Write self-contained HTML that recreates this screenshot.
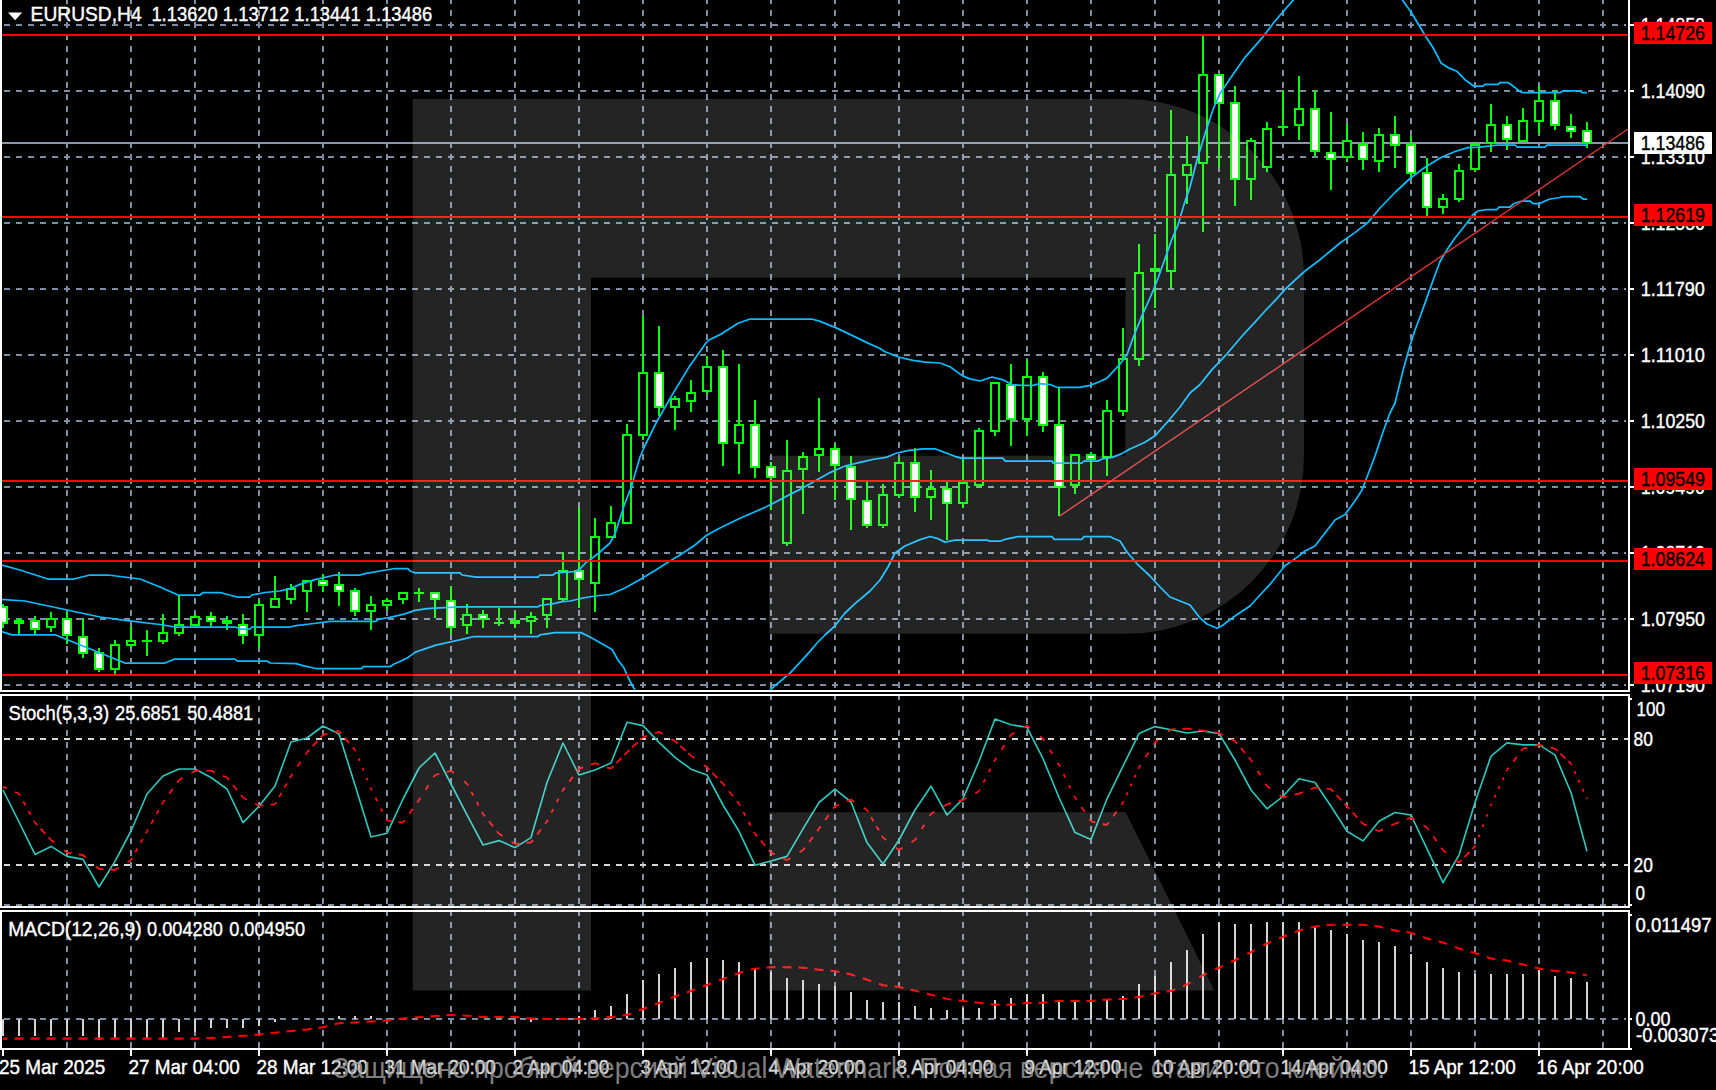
<!DOCTYPE html>
<html lang="en"><head><meta charset="utf-8"><title>EURUSD H4</title>
<style>html,body{margin:0;padding:0;background:#000;}body{width:1716px;height:1090px;overflow:hidden;}svg{display:block;}text{font-family:"Liberation Sans",sans-serif;}.g{stroke:#7e8fa5;stroke-width:2;stroke-dasharray:6 6;fill:none}.lv{stroke:#d6d6d6;stroke-width:2;stroke-dasharray:6 6;fill:none}.r{stroke:#ff0000;stroke-width:2;fill:none}.b{stroke:#08bcff;stroke-width:1.75;fill:none;stroke-linejoin:round}.wk{stroke:#00ff00;stroke-width:2;fill:none}.cw{fill:#fff;stroke:#00ff00;stroke-width:2}.ch{fill:#000;stroke:#00ff00;stroke-width:2}.cd{fill:#00ff00;stroke:#00ff00;stroke-width:2}.wl{stroke:#fff;stroke-width:2;fill:none}.t{fill:#fff;font-size:17.6px;stroke:#fff;stroke-width:0.35}.tk{fill:#000;font-size:17.6px;stroke:#000;stroke-width:0.35}</style></head><body>
<svg width="1716" height="1090" viewBox="0 0 1716 1090">
<rect x="0" y="0" width="1716" height="1090" fill="#000"/>
<g class="g">
<path d="M67 -2V690M67 694V906M67 910V1048"/>
<path d="M131 -2V690M131 694V906M131 910V1048"/>
<path d="M195 -2V690M195 694V906M195 910V1048"/>
<path d="M259 -2V690M259 694V906M259 910V1048"/>
<path d="M323 -2V690M323 694V906M323 910V1048"/>
<path d="M387 -2V690M387 694V906M387 910V1048"/>
<path d="M451 -2V690M451 694V906M451 910V1048"/>
<path d="M515 -2V690M515 694V906M515 910V1048"/>
<path d="M579 -2V690M579 694V906M579 910V1048"/>
<path d="M643 -2V690M643 694V906M643 910V1048"/>
<path d="M707 -2V690M707 694V906M707 910V1048"/>
<path d="M771 -2V690M771 694V906M771 910V1048"/>
<path d="M835 -2V690M835 694V906M835 910V1048"/>
<path d="M899 -2V690M899 694V906M899 910V1048"/>
<path d="M963 -2V690M963 694V906M963 910V1048"/>
<path d="M1027 -2V690M1027 694V906M1027 910V1048"/>
<path d="M1091 -2V690M1091 694V906M1091 910V1048"/>
<path d="M1155 -2V690M1155 694V906M1155 910V1048"/>
<path d="M1219 -2V690M1219 694V906M1219 910V1048"/>
<path d="M1283 -2V690M1283 694V906M1283 910V1048"/>
<path d="M1347 -2V690M1347 694V906M1347 910V1048"/>
<path d="M1411 -2V690M1411 694V906M1411 910V1048"/>
<path d="M1475 -2V690M1475 694V906M1475 910V1048"/>
<path d="M1539 -2V690M1539 694V906M1539 910V1048"/>
<path d="M1603 -2V690M1603 694V906M1603 910V1048"/>
<path d="M4 25H1626"/>
<path d="M4 91H1626"/>
<path d="M4 157H1626"/>
<path d="M4 223H1626"/>
<path d="M4 289H1626"/>
<path d="M4 355H1626"/>
<path d="M4 421H1626"/>
<path d="M4 487H1626"/>
<path d="M4 553H1626"/>
<path d="M4 619H1626"/>
<path d="M4 685H1626"/>
<path d="M4 905H1626"/>
<path d="M4 1019H1626"/>
</g>
<path d="M2 143H1630" stroke="#8797ab" stroke-width="2" fill="none"/>
<g>
<path class="wk" d="M3 604V628"/>
<rect class="cw" x="-1" y="607" width="8" height="16"/>
<path class="wk" d="M19 618V634"/>
<rect class="cd" x="15" y="621" width="8" height="2"/>
<path class="wk" d="M35 616V634"/>
<rect class="cw" x="31" y="621" width="8" height="8"/>
<path class="wk" d="M51 612V632"/>
<rect class="ch" x="47" y="619" width="8" height="8"/>
<path class="wk" d="M67 612V644"/>
<rect class="cw" x="63" y="619" width="8" height="16"/>
<path class="wk" d="M83 618V658"/>
<rect class="cw" x="79" y="637" width="8" height="16"/>
<path class="wk" d="M99 648V672"/>
<rect class="cw" x="95" y="653" width="8" height="16"/>
<path class="wk" d="M115 640V674"/>
<rect class="ch" x="111" y="645" width="8" height="24"/>
<path class="wk" d="M131 626V648"/>
<rect class="ch" x="127" y="641" width="8" height="4"/>
<path class="wk" d="M147 630V656"/>
<path class="wk" d="M142 641H152"/>
<path class="wk" d="M163 614V644"/>
<rect class="ch" x="159" y="633" width="8" height="8"/>
<path class="wk" d="M179 596V636"/>
<rect class="ch" x="175" y="625" width="8" height="8"/>
<path class="wk" d="M195 614V626"/>
<rect class="ch" x="191" y="617" width="8" height="8"/>
<path class="wk" d="M211 612V626"/>
<rect class="cw" x="207" y="617" width="8" height="4"/>
<path class="wk" d="M227 616V630"/>
<rect class="cd" x="223" y="621" width="8" height="2"/>
<path class="wk" d="M243 614V644"/>
<rect class="cw" x="239" y="625" width="8" height="10"/>
<path class="wk" d="M259 600V648"/>
<rect class="ch" x="255" y="605" width="8" height="30"/>
<path class="wk" d="M275 576V608"/>
<rect class="ch" x="271" y="599" width="8" height="8"/>
<path class="wk" d="M291 584V604"/>
<rect class="ch" x="287" y="589" width="8" height="10"/>
<path class="wk" d="M307 580V612"/>
<rect class="ch" x="303" y="581" width="8" height="10"/>
<path class="wk" d="M323 574V592"/>
<rect class="cw" x="319" y="581" width="8" height="4"/>
<path class="wk" d="M339 572V606"/>
<rect class="cw" x="335" y="585" width="8" height="6"/>
<path class="wk" d="M355 588V616"/>
<rect class="cw" x="351" y="591" width="8" height="20"/>
<path class="wk" d="M371 596V630"/>
<rect class="ch" x="367" y="605" width="8" height="6"/>
<path class="wk" d="M387 598V610"/>
<rect class="ch" x="383" y="601" width="8" height="4"/>
<path class="wk" d="M403 592V604"/>
<rect class="ch" x="399" y="593" width="8" height="6"/>
<path class="wk" d="M419 588V602"/>
<path class="wk" d="M414 593H424"/>
<path class="wk" d="M435 592V618"/>
<rect class="cw" x="431" y="593" width="8" height="6"/>
<path class="wk" d="M451 586V634"/>
<rect class="cw" x="447" y="601" width="8" height="26"/>
<path class="wk" d="M467 604V634"/>
<rect class="ch" x="463" y="615" width="8" height="10"/>
<path class="wk" d="M483 610V628"/>
<rect class="cw" x="479" y="615" width="8" height="4"/>
<path class="wk" d="M499 608V626"/>
<path class="wk" d="M494 623H504"/>
<path class="wk" d="M515 612V628"/>
<rect class="cd" x="511" y="621" width="8" height="2"/>
<path class="wk" d="M531 612V634"/>
<rect class="ch" x="527" y="617" width="8" height="4"/>
<path class="wk" d="M547 598V628"/>
<rect class="ch" x="543" y="599" width="8" height="16"/>
<path class="wk" d="M563 552V602"/>
<rect class="ch" x="559" y="571" width="8" height="28"/>
<path class="wk" d="M579 508V608"/>
<rect class="cw" x="575" y="571" width="8" height="8"/>
<path class="wk" d="M595 518V612"/>
<rect class="ch" x="591" y="537" width="8" height="46"/>
<path class="wk" d="M611 506V538"/>
<rect class="ch" x="607" y="523" width="8" height="14"/>
<path class="wk" d="M627 424V524"/>
<rect class="ch" x="623" y="435" width="8" height="88"/>
<path class="wk" d="M643 316V440"/>
<rect class="ch" x="639" y="373" width="8" height="62"/>
<path class="wk" d="M659 326V416"/>
<rect class="cw" x="655" y="373" width="8" height="34"/>
<path class="wk" d="M675 396V430"/>
<rect class="ch" x="671" y="399" width="8" height="8"/>
<path class="wk" d="M691 380V412"/>
<rect class="ch" x="687" y="393" width="8" height="8"/>
<path class="wk" d="M707 356V394"/>
<rect class="ch" x="703" y="367" width="8" height="24"/>
<path class="wk" d="M723 350V466"/>
<rect class="cw" x="719" y="367" width="8" height="76"/>
<path class="wk" d="M739 364V474"/>
<rect class="ch" x="735" y="425" width="8" height="18"/>
<path class="wk" d="M755 400V478"/>
<rect class="cw" x="751" y="425" width="8" height="42"/>
<path class="wk" d="M771 462V510"/>
<rect class="cw" x="767" y="467" width="8" height="10"/>
<path class="wk" d="M787 440V546"/>
<rect class="ch" x="783" y="471" width="8" height="72"/>
<path class="wk" d="M803 452V514"/>
<rect class="ch" x="799" y="457" width="8" height="12"/>
<path class="wk" d="M819 398V472"/>
<rect class="ch" x="815" y="449" width="8" height="6"/>
<path class="wk" d="M835 444V500"/>
<rect class="cw" x="831" y="449" width="8" height="16"/>
<path class="wk" d="M851 456V530"/>
<rect class="cw" x="847" y="467" width="8" height="32"/>
<path class="wk" d="M867 482V528"/>
<rect class="cw" x="863" y="501" width="8" height="24"/>
<path class="wk" d="M883 484V528"/>
<rect class="ch" x="879" y="495" width="8" height="30"/>
<path class="wk" d="M899 458V498"/>
<rect class="ch" x="895" y="463" width="8" height="32"/>
<path class="wk" d="M915 448V512"/>
<rect class="cw" x="911" y="463" width="8" height="34"/>
<path class="wk" d="M931 470V520"/>
<rect class="ch" x="927" y="489" width="8" height="8"/>
<path class="wk" d="M947 482V540"/>
<rect class="cw" x="943" y="489" width="8" height="14"/>
<path class="wk" d="M963 460V508"/>
<rect class="ch" x="959" y="483" width="8" height="20"/>
<path class="wk" d="M979 428V488"/>
<rect class="ch" x="975" y="431" width="8" height="54"/>
<path class="wk" d="M995 382V436"/>
<rect class="ch" x="991" y="383" width="8" height="48"/>
<path class="wk" d="M1011 364V446"/>
<rect class="cw" x="1007" y="385" width="8" height="34"/>
<path class="wk" d="M1027 360V436"/>
<rect class="ch" x="1023" y="377" width="8" height="42"/>
<path class="wk" d="M1043 372V432"/>
<rect class="cw" x="1039" y="377" width="8" height="48"/>
<path class="wk" d="M1059 388V516"/>
<rect class="cw" x="1055" y="425" width="8" height="62"/>
<path class="wk" d="M1075 454V494"/>
<rect class="ch" x="1071" y="455" width="8" height="30"/>
<path class="wk" d="M1091 452V478"/>
<rect class="cw" x="1087" y="455" width="8" height="4"/>
<path class="wk" d="M1107 400V476"/>
<rect class="ch" x="1103" y="411" width="8" height="46"/>
<path class="wk" d="M1123 328V416"/>
<rect class="ch" x="1119" y="359" width="8" height="52"/>
<path class="wk" d="M1139 244V366"/>
<rect class="ch" x="1135" y="273" width="8" height="86"/>
<path class="wk" d="M1155 234V308"/>
<rect class="ch" x="1151" y="269" width="8" height="2"/>
<path class="wk" d="M1171 110V288"/>
<rect class="ch" x="1167" y="175" width="8" height="96"/>
<path class="wk" d="M1187 136V204"/>
<rect class="ch" x="1183" y="165" width="8" height="10"/>
<path class="wk" d="M1203 36V232"/>
<rect class="ch" x="1199" y="75" width="8" height="88"/>
<path class="wk" d="M1219 74V168"/>
<rect class="cw" x="1215" y="75" width="8" height="28"/>
<path class="wk" d="M1235 86V206"/>
<rect class="cw" x="1231" y="103" width="8" height="76"/>
<path class="wk" d="M1251 138V200"/>
<rect class="ch" x="1247" y="141" width="8" height="38"/>
<path class="wk" d="M1267 122V172"/>
<rect class="ch" x="1263" y="129" width="8" height="38"/>
<path class="wk" d="M1283 90V136"/>
<path class="wk" d="M1278 127H1288"/>
<path class="wk" d="M1299 76V140"/>
<rect class="ch" x="1295" y="109" width="8" height="16"/>
<path class="wk" d="M1315 90V156"/>
<rect class="cw" x="1311" y="109" width="8" height="42"/>
<path class="wk" d="M1331 112V190"/>
<rect class="cw" x="1327" y="153" width="8" height="6"/>
<path class="wk" d="M1347 124V162"/>
<rect class="ch" x="1343" y="141" width="8" height="16"/>
<path class="wk" d="M1363 132V170"/>
<rect class="cw" x="1359" y="145" width="8" height="14"/>
<path class="wk" d="M1379 128V172"/>
<rect class="ch" x="1375" y="135" width="8" height="26"/>
<path class="wk" d="M1395 116V168"/>
<rect class="cw" x="1391" y="135" width="8" height="10"/>
<path class="wk" d="M1411 136V178"/>
<rect class="cw" x="1407" y="145" width="8" height="28"/>
<path class="wk" d="M1427 158V216"/>
<rect class="cw" x="1423" y="173" width="8" height="34"/>
<path class="wk" d="M1443 194V214"/>
<rect class="ch" x="1439" y="199" width="8" height="8"/>
<path class="wk" d="M1459 164V202"/>
<rect class="ch" x="1455" y="171" width="8" height="28"/>
<path class="wk" d="M1475 142V172"/>
<rect class="ch" x="1471" y="145" width="8" height="24"/>
<path class="wk" d="M1491 104V152"/>
<rect class="ch" x="1487" y="125" width="8" height="18"/>
<path class="wk" d="M1507 116V150"/>
<rect class="cw" x="1503" y="125" width="8" height="14"/>
<path class="wk" d="M1523 108V142"/>
<rect class="ch" x="1519" y="121" width="8" height="20"/>
<path class="wk" d="M1539 86V134"/>
<rect class="ch" x="1535" y="101" width="8" height="20"/>
<path class="wk" d="M1555 90V130"/>
<rect class="cw" x="1551" y="101" width="8" height="24"/>
<path class="wk" d="M1571 114V138"/>
<rect class="cw" x="1567" y="127" width="8" height="4"/>
<path class="wk" d="M1587 122V148"/>
<rect class="cw" x="1583" y="131" width="8" height="12"/>
</g>
<path class="b" d="M0.0 564.5 L20.0 570.0 L48.0 579.0 L74.0 579.0 L90.0 575.0 L108.0 575.0 L140.0 579.0 L160.0 587.0 L178.0 595.0 L200.0 595.0 L203.0 592.5 L220.0 592.5 L237.0 597.0 L250.0 597.0 L252.0 595.0 L265.0 592.5 L280.0 591.0 L290.0 588.6 L300.0 584.4 L315.0 579.7 L335.0 575.0 L360.0 575.0 L365.0 573.7 L380.0 571.0 L395.0 568.5 L408.0 568.5 L410.0 571.0 L415.0 572.8 L460.0 572.8 L462.0 575.0 L476.0 577.2 L538.0 577.2 L540.0 575.0 L553.0 575.0 L556.0 572.8 L575.0 571.5 L580.0 569.0 L586.0 562.5 L590.0 560.0 L600.0 552.0 L610.0 543.0 L615.0 534.0 L620.0 518.3 L625.0 503.0 L631.0 488.0 L640.0 457.0 L645.0 445.5 L657.0 421.2 L672.0 395.1 L689.0 367.1 L706.0 343.0 L709.0 340.0 L722.0 333.6 L738.0 323.3 L750.0 319.0 L812.0 319.0 L820.0 321.4 L835.0 327.4 L852.0 335.4 L868.0 343.1 L880.0 348.5 L885.0 351.7 L900.0 357.5 L913.0 360.3 L925.0 362.1 L940.0 363.0 L950.0 366.8 L963.0 376.1 L970.0 378.9 L980.0 381.0 L992.0 377.0 L1003.0 379.8 L1012.0 384.5 L1020.0 385.4 L1033.0 385.4 L1040.0 383.6 L1050.0 384.5 L1057.0 387.3 L1080.0 387.3 L1090.0 385.4 L1100.0 381.5 L1107.0 378.1 L1113.0 371.6 L1120.0 364.0 L1127.0 354.8 L1133.0 338.0 L1142.0 315.6 L1150.0 298.0 L1157.0 281.0 L1164.0 261.5 L1172.0 239.0 L1178.0 225.0 L1184.0 204.6 L1190.0 187.0 L1197.0 160.0 L1205.0 133.8 L1213.0 109.5 L1220.0 93.7 L1230.0 78.7 L1245.0 57.3 L1263.0 36.8 L1275.0 21.0 L1295.0 -2.0"/>
<path class="b" d="M1401.0 -2.0 L1411.0 12.0 L1420.0 27.0 L1427.0 38.6 L1433.0 47.5 L1441.0 62.9 L1448.0 67.6 L1457.0 71.3 L1465.0 79.7 L1474.0 86.2 L1483.0 86.2 L1485.0 84.3 L1498.0 84.3 L1500.0 82.5 L1508.0 82.5 L1512.0 85.3 L1518.0 89.9 L1522.0 92.7 L1560.0 92.7 L1563.0 90.8 L1580.0 90.8 L1582.0 92.7 L1587.0 92.7"/>
<path class="b" d="M0.0 599.4 L25.0 601.0 L100.0 617.0 L125.0 620.4 L160.0 624.5 L175.0 627.0 L235.0 627.0 L240.0 629.0 L250.0 629.0 L252.0 627.0 L290.0 627.0 L296.0 625.7 L314.0 623.5 L330.0 621.3 L376.0 621.3 L378.0 619.5 L390.0 617.4 L405.0 613.9 L415.0 610.4 L427.0 608.7 L440.0 607.8 L460.0 606.9 L538.0 606.9 L540.0 605.5 L555.0 603.4 L562.0 601.7 L570.0 601.0 L583.0 598.0 L595.0 596.0 L610.0 594.5 L625.0 588.0 L640.0 579.5 L655.0 570.5 L670.0 561.0 L680.0 555.0 L695.0 545.0 L707.0 535.0 L720.0 528.0 L740.0 518.3 L755.0 511.8 L770.0 505.0 L785.0 497.0 L800.0 489.4 L815.0 481.0 L830.0 472.6 L845.0 466.0 L860.0 462.4 L875.0 459.0 L886.0 457.4 L897.0 453.0 L908.0 450.7 L923.0 448.8 L935.0 448.8 L945.0 452.6 L955.0 456.3 L961.0 458.2 L1003.0 458.2 L1005.0 461.0 L1052.0 461.0 L1053.0 463.0 L1082.0 463.0 L1084.0 461.0 L1098.0 461.0 L1102.0 459.0 L1112.0 457.4 L1122.0 453.6 L1130.0 449.0 L1145.0 442.3 L1155.0 435.8 L1170.0 419.0 L1180.0 407.0 L1190.0 393.0 L1200.0 384.5 L1212.0 369.6 L1227.0 353.8 L1243.0 335.0 L1255.0 322.1 L1265.0 311.0 L1275.0 300.7 L1285.0 289.5 L1295.0 280.2 L1305.0 271.0 L1320.0 259.7 L1340.0 243.0 L1355.0 232.6 L1368.0 222.4 L1380.0 208.0 L1396.0 191.5 L1410.0 178.5 L1425.0 167.3 L1440.0 158.0 L1455.0 151.5 L1468.0 147.7 L1480.0 147.2 L1498.0 145.0 L1515.0 145.0 L1517.0 147.0 L1545.0 147.0 L1547.0 145.0 L1587.0 145.0"/>
<path class="b" d="M0.0 631.0 L12.0 634.8 L55.0 634.8 L125.0 663.0 L165.0 663.0 L175.0 659.0 L235.0 659.0 L237.0 661.0 L267.0 661.0 L270.0 663.0 L296.0 663.7 L304.0 665.8 L316.0 668.5 L362.0 668.5 L363.0 666.7 L390.0 666.7 L394.0 664.0 L400.0 661.5 L408.0 657.5 L415.0 652.4 L422.0 649.8 L435.0 645.4 L450.0 642.0 L462.0 639.3 L474.0 636.5 L538.0 636.5 L540.0 634.9 L555.0 632.6 L581.0 632.6 L590.0 637.0 L605.0 645.5 L612.0 649.4 L618.0 660.0 L624.0 668.0 L628.0 677.0 L632.0 685.0 L635.0 690.0"/>
<path class="b" d="M770.0 690.0 L777.0 684.0 L790.0 673.2 L800.0 662.3 L810.0 651.4 L817.0 643.0 L825.0 635.0 L835.0 625.8 L845.0 613.0 L855.0 603.6 L870.0 591.0 L880.0 580.0 L888.0 567.0 L895.0 553.0 L905.0 546.0 L920.0 539.6 L930.0 536.5 L937.0 538.3 L945.0 542.1 L955.0 540.2 L987.0 540.2 L990.0 541.2 L1000.0 541.2 L1005.0 539.3 L1018.0 536.5 L1052.0 536.5 L1054.0 539.3 L1082.0 539.3 L1084.0 536.5 L1110.0 536.5 L1113.0 538.3 L1120.0 541.0 L1127.0 552.0 L1137.0 563.8 L1150.0 576.0 L1160.0 587.0 L1170.0 597.0 L1180.0 601.0 L1190.0 605.0 L1200.0 618.0 L1207.0 624.0 L1217.0 628.3 L1222.0 625.7 L1235.0 616.0 L1250.0 606.0 L1260.0 595.0 L1270.0 584.3 L1285.0 565.7 L1297.0 557.4 L1305.0 551.0 L1315.0 546.0 L1325.0 533.0 L1335.0 520.0 L1345.0 514.4 L1355.0 501.0 L1362.0 490.0 L1367.0 477.0 L1375.0 456.0 L1383.0 432.0 L1390.0 413.0 L1395.0 403.0 L1403.0 370.6 L1410.0 345.5 L1415.0 330.0 L1420.0 317.0 L1427.0 297.4 L1433.0 280.5 L1440.0 261.5 L1447.0 249.7 L1455.0 238.0 L1462.0 229.2 L1470.0 219.0 L1473.0 214.5 L1478.0 211.0 L1487.0 209.5 L1497.0 209.5 L1499.0 207.0 L1510.0 207.0 L1514.0 203.5 L1522.0 201.0 L1530.0 201.0 L1533.0 203.5 L1540.0 203.5 L1545.0 201.0 L1550.0 199.0 L1560.0 197.5 L1563.0 196.5 L1580.0 196.5 L1583.0 199.0 L1587.0 199.0"/>
<path class="r" d="M2 35H1628"/>
<path class="r" d="M2 217H1628"/>
<path class="r" d="M2 481H1628"/>
<path class="r" d="M2 561H1628"/>
<path class="r" d="M2 675H1628"/>
<path d="M1059 516.5L1628 129" stroke="#d63434" stroke-width="1.5" fill="none"/>
<path class="lv" d="M4 739H1630"/><path class="lv" d="M4 865H1630"/>
<path class="" d="M3.0 790.0 L19.0 822.0 L35.0 854.4 L51.0 846.4 L67.0 856.4 L83.0 859.4 L99.0 887.0 L115.0 861.4 L131.0 831.0 L147.0 794.0 L163.0 776.0 L179.0 769.0 L195.0 769.0 L211.0 777.5 L227.0 789.0 L243.0 822.6 L259.0 806.3 L275.0 786.0 L291.0 742.0 L307.0 738.0 L323.0 726.0 L339.0 734.0 L355.0 785.0 L371.0 837.0 L387.0 833.3 L403.0 799.0 L419.0 768.0 L435.0 753.0 L451.0 784.0 L467.0 814.8 L483.0 845.0 L499.0 840.6 L515.0 847.6 L531.0 837.6 L547.0 782.5 L563.0 743.0 L579.0 775.0 L595.0 770.0 L611.0 763.0 L627.0 722.3 L643.0 725.6 L659.0 742.4 L675.0 757.4 L691.0 769.2 L707.0 775.0 L723.0 805.0 L739.0 831.3 L755.0 865.2 L771.0 861.0 L787.0 856.4 L803.0 828.8 L819.0 802.5 L835.0 789.2 L851.0 802.0 L867.0 842.6 L883.0 864.0 L899.0 840.0 L915.0 810.0 L931.0 786.2 L947.0 815.0 L963.0 798.8 L979.0 761.2 L995.0 719.0 L1011.0 724.8 L1027.0 727.3 L1043.0 758.7 L1059.0 797.5 L1075.0 832.6 L1091.0 839.6 L1107.0 798.8 L1123.0 766.2 L1139.0 733.6 L1155.0 726.6 L1171.0 729.8 L1187.0 733.0 L1203.0 731.0 L1219.0 733.6 L1235.0 760.0 L1251.0 790.0 L1267.0 808.8 L1283.0 796.3 L1299.0 778.7 L1315.0 782.5 L1331.0 806.3 L1347.0 831.3 L1363.0 840.9 L1379.0 821.3 L1395.0 812.5 L1411.0 815.0 L1427.0 848.9 L1443.0 882.7 L1459.0 855.1 L1475.0 802.5 L1491.0 756.2 L1507.0 742.9 L1523.0 744.9 L1539.0 744.9 L1555.0 754.9 L1571.0 792.5 L1587.0 851.4" stroke="#2cc6bc" stroke-width="1.65" fill="none" stroke-linejoin="round"/>
<g stroke="#ff1010" stroke-width="1.8" fill="none">
<path d="M3.0 786.7L19.0 793.7" stroke-dasharray="8.61 8.85" stroke-dashoffset="4.31"/>
<path d="M19.0 793.7L35.0 822.6" stroke-dasharray="4.49 6.52" stroke-dashoffset="2.25"/>
<path d="M35.0 822.6L51.0 840.0" stroke-dasharray="6.98 4.84" stroke-dashoffset="3.49"/>
<path d="M51.0 840.0L67.0 852.6" stroke-dasharray="7.84 12.52" stroke-dashoffset="3.92"/>
<path d="M67.0 852.6L83.0 855.0" stroke-dasharray="8.95 7.23" stroke-dashoffset="4.48"/>
<path d="M83.0 855.0L99.0 869.0" stroke-dasharray="7.61 13.65" stroke-dashoffset="3.80"/>
<path d="M99.0 869.0L115.0 870.0" stroke-dasharray="8.99 7.04" stroke-dashoffset="4.50"/>
<path d="M115.0 870.0L131.0 860.0" stroke-dasharray="8.24 10.63" stroke-dashoffset="4.12"/>
<path d="M131.0 860.0L147.0 831.3" stroke-dasharray="4.54 6.42" stroke-dashoffset="2.27"/>
<path d="M147.0 831.3L163.0 802.5" stroke-dasharray="4.51 6.47" stroke-dashoffset="2.26"/>
<path d="M163.0 802.5L179.0 780.0" stroke-dasharray="5.93 7.88" stroke-dashoffset="2.96"/>
<path d="M179.0 780.0L195.0 771.0" stroke-dasharray="8.38 9.98" stroke-dashoffset="4.19"/>
<path d="M195.0 771.0L211.0 770.7" stroke-dasharray="9.00 7.00" stroke-dashoffset="4.50"/>
<path d="M211.0 770.7L227.0 777.5" stroke-dasharray="8.63 8.75" stroke-dashoffset="4.32"/>
<path d="M227.0 777.5L243.0 797.5" stroke-dasharray="6.46 6.35" stroke-dashoffset="3.23"/>
<path d="M243.0 797.5L259.0 805.8" stroke-dasharray="8.46 9.56" stroke-dashoffset="4.23"/>
<path d="M259.0 805.8L275.0 804.3" stroke-dasharray="8.98 7.09" stroke-dashoffset="4.49"/>
<path d="M275.0 804.3L291.0 776.0" stroke-dasharray="4.63 6.21" stroke-dashoffset="2.31"/>
<path d="M291.0 776.0L307.0 752.4" stroke-dasharray="5.69 8.57" stroke-dashoffset="2.84"/>
<path d="M307.0 752.4L323.0 734.8" stroke-dasharray="6.94 4.95" stroke-dashoffset="3.47"/>
<path d="M323.0 734.8L339.0 731.0" stroke-dasharray="8.88 7.56" stroke-dashoffset="4.44"/>
<path d="M339.0 731.0L355.0 750.0" stroke-dasharray="6.66 5.76" stroke-dashoffset="3.33"/>
<path d="M355.0 750.0L371.0 788.7" stroke-dasharray="2.70 7.77" stroke-dashoffset="1.35"/>
<path d="M371.0 788.7L387.0 820.6" stroke-dasharray="3.79 8.11" stroke-dashoffset="1.89"/>
<path d="M387.0 820.6L403.0 822.6" stroke-dasharray="8.97 7.16" stroke-dashoffset="4.48"/>
<path d="M403.0 822.6L419.0 800.0" stroke-dasharray="5.91 7.94" stroke-dashoffset="2.95"/>
<path d="M419.0 800.0L435.0 775.0" stroke-dasharray="5.38 9.46" stroke-dashoffset="2.69"/>
<path d="M435.0 775.0L451.0 770.7" stroke-dasharray="8.85 7.72" stroke-dashoffset="4.42"/>
<path d="M451.0 770.7L467.0 783.7" stroke-dasharray="7.78 12.84" stroke-dashoffset="3.89"/>
<path d="M467.0 783.7L483.0 813.8" stroke-dasharray="4.21 7.15" stroke-dashoffset="2.11"/>
<path d="M483.0 813.8L499.0 833.8" stroke-dasharray="6.46 6.35" stroke-dashoffset="3.23"/>
<path d="M499.0 833.8L515.0 843.9" stroke-dasharray="8.23 10.69" stroke-dashoffset="4.11"/>
<path d="M515.0 843.9L531.0 842.6" stroke-dasharray="8.99 7.07" stroke-dashoffset="4.49"/>
<path d="M531.0 842.6L547.0 821.3" stroke-dasharray="6.18 7.14" stroke-dashoffset="3.09"/>
<path d="M547.0 821.3L563.0 790.0" stroke-dasharray="3.93 7.79" stroke-dashoffset="1.97"/>
<path d="M563.0 790.0L579.0 768.7" stroke-dasharray="6.18 7.14" stroke-dashoffset="3.09"/>
<path d="M579.0 768.7L595.0 763.2" stroke-dasharray="8.76 8.16" stroke-dashoffset="4.38"/>
<path d="M595.0 763.2L611.0 768.7" stroke-dasharray="8.76 8.16" stroke-dashoffset="4.38"/>
<path d="M611.0 768.7L627.0 752.4" stroke-dasharray="7.19 4.23" stroke-dashoffset="3.59"/>
<path d="M627.0 752.4L643.0 737.4" stroke-dasharray="7.43 3.54" stroke-dashoffset="3.71"/>
<path d="M643.0 737.4L659.0 731.8" stroke-dasharray="8.75 8.20" stroke-dashoffset="4.37"/>
<path d="M659.0 731.8L675.0 741.1" stroke-dasharray="8.34 10.17" stroke-dashoffset="4.17"/>
<path d="M675.0 741.1L691.0 755.6" stroke-dasharray="7.52 3.28" stroke-dashoffset="3.76"/>
<path d="M691.0 755.6L707.0 767.4" stroke-dasharray="7.97 11.91" stroke-dashoffset="3.99"/>
<path d="M707.0 767.4L723.0 783.7" stroke-dasharray="7.19 4.23" stroke-dashoffset="3.59"/>
<path d="M723.0 783.7L739.0 803.8" stroke-dasharray="6.43 6.41" stroke-dashoffset="3.22"/>
<path d="M739.0 803.8L755.0 833.8" stroke-dasharray="4.24 7.10" stroke-dashoffset="2.12"/>
<path d="M755.0 833.8L771.0 852.6" stroke-dasharray="6.70 5.64" stroke-dashoffset="3.35"/>
<path d="M771.0 852.6L787.0 860.2" stroke-dasharray="8.55 9.17" stroke-dashoffset="4.27"/>
<path d="M787.0 860.2L803.0 850.1" stroke-dasharray="8.23 10.69" stroke-dashoffset="4.11"/>
<path d="M803.0 850.1L819.0 828.8" stroke-dasharray="6.18 7.14" stroke-dashoffset="3.09"/>
<path d="M819.0 828.8L835.0 806.3" stroke-dasharray="5.93 7.88" stroke-dashoffset="2.96"/>
<path d="M835.0 806.3L851.0 799.5" stroke-dasharray="8.63 8.75" stroke-dashoffset="4.32"/>
<path d="M851.0 799.5L867.0 810.0" stroke-dasharray="8.17 10.97" stroke-dashoffset="4.08"/>
<path d="M867.0 810.0L883.0 837.6" stroke-dasharray="4.79 5.84" stroke-dashoffset="2.40"/>
<path d="M883.0 837.6L899.0 850.0" stroke-dasharray="7.88 12.37" stroke-dashoffset="3.94"/>
<path d="M899.0 850.0L915.0 840.0" stroke-dasharray="8.24 10.63" stroke-dashoffset="4.12"/>
<path d="M915.0 840.0L931.0 813.8" stroke-dasharray="5.11 10.24" stroke-dashoffset="2.55"/>
<path d="M931.0 813.8L947.0 804.3" stroke-dasharray="8.31 10.30" stroke-dashoffset="4.15"/>
<path d="M947.0 804.3L963.0 800.0" stroke-dasharray="8.85 7.72" stroke-dashoffset="4.42"/>
<path d="M963.0 800.0L979.0 791.2" stroke-dasharray="8.40 9.86" stroke-dashoffset="4.20"/>
<path d="M979.0 791.2L995.0 760.0" stroke-dasharray="3.95 7.73" stroke-dashoffset="1.98"/>
<path d="M995.0 760.0L1011.0 734.8" stroke-dasharray="5.33 9.59" stroke-dashoffset="2.67"/>
<path d="M1011.0 734.8L1027.0 725.6" stroke-dasharray="8.35 10.11" stroke-dashoffset="4.17"/>
<path d="M1027.0 725.6L1043.0 738.6" stroke-dasharray="7.78 12.84" stroke-dashoffset="3.89"/>
<path d="M1043.0 738.6L1059.0 765.0" stroke-dasharray="5.06 10.37" stroke-dashoffset="2.53"/>
<path d="M1059.0 765.0L1075.0 797.5" stroke-dasharray="3.65 8.43" stroke-dashoffset="1.82"/>
<path d="M1075.0 797.5L1091.0 821.3" stroke-dasharray="5.64 8.70" stroke-dashoffset="2.82"/>
<path d="M1091.0 821.3L1107.0 825.0" stroke-dasharray="8.89 7.53" stroke-dashoffset="4.44"/>
<path d="M1107.0 825.0L1123.0 802.5" stroke-dasharray="5.93 7.88" stroke-dashoffset="2.96"/>
<path d="M1123.0 802.5L1139.0 767.4" stroke-dasharray="3.02 6.62" stroke-dashoffset="1.51"/>
<path d="M1139.0 767.4L1155.0 742.4" stroke-dasharray="5.38 9.46" stroke-dashoffset="2.69"/>
<path d="M1155.0 742.4L1171.0 729.3" stroke-dasharray="7.76 12.92" stroke-dashoffset="3.88"/>
<path d="M1171.0 729.3L1187.0 728.6" stroke-dasharray="9.00 7.02" stroke-dashoffset="4.50"/>
<path d="M1187.0 728.6L1203.0 730.6" stroke-dasharray="8.97 7.16" stroke-dashoffset="4.48"/>
<path d="M1203.0 730.6L1219.0 733.1" stroke-dasharray="8.95 7.25" stroke-dashoffset="4.47"/>
<path d="M1219.0 733.1L1235.0 741.1" stroke-dasharray="8.50 9.39" stroke-dashoffset="4.25"/>
<path d="M1235.0 741.1L1251.0 760.0" stroke-dasharray="6.68 5.70" stroke-dashoffset="3.34"/>
<path d="M1251.0 760.0L1267.0 786.0" stroke-dasharray="5.15 10.11" stroke-dashoffset="2.58"/>
<path d="M1267.0 786.0L1283.0 797.5" stroke-dasharray="8.02 11.68" stroke-dashoffset="4.01"/>
<path d="M1283.0 797.5L1299.0 793.7" stroke-dasharray="8.88 7.56" stroke-dashoffset="4.44"/>
<path d="M1299.0 793.7L1315.0 787.5" stroke-dasharray="8.69 8.47" stroke-dashoffset="4.35"/>
<path d="M1315.0 787.5L1331.0 789.2" stroke-dasharray="8.98 7.11" stroke-dashoffset="4.49"/>
<path d="M1331.0 789.2L1347.0 806.3" stroke-dasharray="7.04 4.67" stroke-dashoffset="3.52"/>
<path d="M1347.0 806.3L1363.0 823.8" stroke-dasharray="6.96 4.90" stroke-dashoffset="3.48"/>
<path d="M1363.0 823.8L1379.0 831.3" stroke-dasharray="8.56 9.11" stroke-dashoffset="4.28"/>
<path d="M1379.0 831.3L1395.0 823.8" stroke-dasharray="8.56 9.11" stroke-dashoffset="4.28"/>
<path d="M1395.0 823.8L1411.0 817.5" stroke-dasharray="8.68 8.51" stroke-dashoffset="4.34"/>
<path d="M1411.0 817.5L1427.0 827.6" stroke-dasharray="8.23 10.69" stroke-dashoffset="4.11"/>
<path d="M1427.0 827.6L1443.0 850.1" stroke-dasharray="5.93 7.88" stroke-dashoffset="2.96"/>
<path d="M1443.0 850.1L1459.0 862.7" stroke-dasharray="7.84 12.52" stroke-dashoffset="3.92"/>
<path d="M1459.0 862.7L1475.0 846.4" stroke-dasharray="7.19 4.23" stroke-dashoffset="3.59"/>
<path d="M1475.0 846.4L1491.0 805.0" stroke-dasharray="2.70 8.40" stroke-dashoffset="1.35"/>
<path d="M1491.0 805.0L1507.0 770.0" stroke-dasharray="3.05 6.57" stroke-dashoffset="1.52"/>
<path d="M1507.0 770.0L1523.0 748.6" stroke-dasharray="6.16 7.20" stroke-dashoffset="3.08"/>
<path d="M1523.0 748.6L1539.0 744.9" stroke-dasharray="8.89 7.53" stroke-dashoffset="4.44"/>
<path d="M1539.0 744.9L1555.0 748.6" stroke-dasharray="8.89 7.53" stroke-dashoffset="4.44"/>
<path d="M1555.0 748.6L1571.0 763.7" stroke-dasharray="7.41 3.59" stroke-dashoffset="3.71"/>
<path d="M1571.0 763.7L1587.0 799.0" stroke-dasharray="2.98 6.71" stroke-dashoffset="1.49"/>
</g>
<g stroke="#d4d4d4" stroke-width="2">
<path d="M3 1019V1036"/>
<path d="M19 1019V1036"/>
<path d="M35 1019V1036"/>
<path d="M51 1019V1036"/>
<path d="M67 1019V1036"/>
<path d="M83 1019V1036"/>
<path d="M99 1019V1040"/>
<path d="M115 1019V1038"/>
<path d="M131 1019V1038"/>
<path d="M147 1019V1038"/>
<path d="M163 1019V1038"/>
<path d="M179 1019V1032"/>
<path d="M195 1019V1032"/>
<path d="M211 1019V1028"/>
<path d="M227 1019V1028"/>
<path d="M243 1019V1028"/>
<path d="M259 1019V1026"/>
<path d="M275 1019V1022"/>
<path d="M339 1019V1016"/>
<path d="M355 1019V1016"/>
<path d="M371 1019V1016"/>
<path d="M531 1019V1022"/>
<path d="M579 1019V1016"/>
<path d="M595 1019V1010"/>
<path d="M611 1019V1006"/>
<path d="M627 1019V994"/>
<path d="M643 1019V980"/>
<path d="M659 1019V974"/>
<path d="M675 1019V968"/>
<path d="M691 1019V962"/>
<path d="M707 1019V958"/>
<path d="M723 1019V960"/>
<path d="M739 1019V962"/>
<path d="M755 1019V968"/>
<path d="M771 1019V972"/>
<path d="M787 1019V978"/>
<path d="M803 1019V980"/>
<path d="M819 1019V984"/>
<path d="M835 1019V986"/>
<path d="M851 1019V992"/>
<path d="M867 1019V1000"/>
<path d="M883 1019V1002"/>
<path d="M899 1019V1002"/>
<path d="M915 1019V1006"/>
<path d="M931 1019V1008"/>
<path d="M947 1019V1010"/>
<path d="M963 1019V1008"/>
<path d="M979 1019V1008"/>
<path d="M995 1019V1000"/>
<path d="M1011 1019V998"/>
<path d="M1027 1019V994"/>
<path d="M1043 1019V994"/>
<path d="M1059 1019V1000"/>
<path d="M1075 1019V1000"/>
<path d="M1091 1019V1002"/>
<path d="M1107 1019V1000"/>
<path d="M1123 1019V996"/>
<path d="M1139 1019V984"/>
<path d="M1155 1019V976"/>
<path d="M1171 1019V962"/>
<path d="M1187 1019V950"/>
<path d="M1203 1019V934"/>
<path d="M1219 1019V922"/>
<path d="M1235 1019V924"/>
<path d="M1251 1019V924"/>
<path d="M1267 1019V922"/>
<path d="M1283 1019V922"/>
<path d="M1299 1019V922"/>
<path d="M1315 1019V926"/>
<path d="M1331 1019V930"/>
<path d="M1347 1019V934"/>
<path d="M1363 1019V940"/>
<path d="M1379 1019V942"/>
<path d="M1395 1019V946"/>
<path d="M1411 1019V954"/>
<path d="M1427 1019V962"/>
<path d="M1443 1019V968"/>
<path d="M1459 1019V972"/>
<path d="M1475 1019V974"/>
<path d="M1491 1019V974"/>
<path d="M1507 1019V974"/>
<path d="M1523 1019V974"/>
<path d="M1539 1019V970"/>
<path d="M1555 1019V976"/>
<path d="M1571 1019V978"/>
<path d="M1587 1019V982"/>
</g>
<g stroke="#ff0000" stroke-width="2.1" fill="none">
<path d="M3.0 1038.6L19.0 1038.6" stroke-dasharray="9.00 7.00" stroke-dashoffset="4.50"/>
<path d="M19.0 1038.6L35.0 1038.6" stroke-dasharray="9.00 7.00" stroke-dashoffset="4.50"/>
<path d="M35.0 1038.6L51.0 1038.6" stroke-dasharray="9.00 7.00" stroke-dashoffset="4.50"/>
<path d="M51.0 1038.6L67.0 1038.6" stroke-dasharray="9.00 7.00" stroke-dashoffset="4.50"/>
<path d="M67.0 1038.6L83.0 1038.6" stroke-dasharray="9.00 7.00" stroke-dashoffset="4.50"/>
<path d="M83.0 1038.6L99.0 1038.6" stroke-dasharray="9.00 7.00" stroke-dashoffset="4.50"/>
<path d="M99.0 1038.6L115.0 1038.6" stroke-dasharray="9.00 7.00" stroke-dashoffset="4.50"/>
<path d="M115.0 1038.6L131.0 1038.6" stroke-dasharray="9.00 7.00" stroke-dashoffset="4.50"/>
<path d="M131.0 1038.6L147.0 1038.6" stroke-dasharray="9.00 7.00" stroke-dashoffset="4.50"/>
<path d="M147.0 1038.6L163.0 1038.6" stroke-dasharray="9.00 7.00" stroke-dashoffset="4.50"/>
<path d="M163.0 1038.6L179.0 1038.6" stroke-dasharray="9.00 7.00" stroke-dashoffset="4.50"/>
<path d="M179.0 1038.6L195.0 1038.6" stroke-dasharray="9.00 7.00" stroke-dashoffset="4.50"/>
<path d="M195.0 1038.6L211.0 1038.0" stroke-dasharray="9.00 7.01" stroke-dashoffset="4.50"/>
<path d="M211.0 1038.0L227.0 1037.0" stroke-dasharray="8.99 7.04" stroke-dashoffset="4.50"/>
<path d="M227.0 1037.0L243.0 1035.8" stroke-dasharray="8.99 7.06" stroke-dashoffset="4.49"/>
<path d="M243.0 1035.8L259.0 1034.5" stroke-dasharray="8.99 7.07" stroke-dashoffset="4.49"/>
<path d="M259.0 1034.5L275.0 1032.8" stroke-dasharray="8.98 7.11" stroke-dashoffset="4.49"/>
<path d="M275.0 1032.8L291.0 1031.0" stroke-dasharray="8.97 7.13" stroke-dashoffset="4.49"/>
<path d="M291.0 1031.0L307.0 1029.5" stroke-dasharray="8.98 7.09" stroke-dashoffset="4.49"/>
<path d="M307.0 1029.5L323.0 1027.3" stroke-dasharray="8.96 7.19" stroke-dashoffset="4.48"/>
<path d="M323.0 1027.3L339.0 1023.2" stroke-dasharray="8.86 7.65" stroke-dashoffset="4.43"/>
<path d="M339.0 1023.2L355.0 1022.5" stroke-dasharray="9.00 7.02" stroke-dashoffset="4.50"/>
<path d="M355.0 1022.5L371.0 1021.5" stroke-dasharray="8.99 7.04" stroke-dashoffset="4.50"/>
<path d="M371.0 1021.5L387.0 1020.5" stroke-dasharray="8.99 7.04" stroke-dashoffset="4.50"/>
<path d="M387.0 1020.5L403.0 1018.5" stroke-dasharray="8.97 7.16" stroke-dashoffset="4.48"/>
<path d="M403.0 1018.5L419.0 1017.2" stroke-dasharray="8.99 7.07" stroke-dashoffset="4.49"/>
<path d="M419.0 1017.2L435.0 1016.0" stroke-dasharray="8.99 7.06" stroke-dashoffset="4.49"/>
<path d="M435.0 1016.0L451.0 1015.0" stroke-dasharray="8.99 7.04" stroke-dashoffset="4.50"/>
<path d="M451.0 1015.0L467.0 1015.7" stroke-dasharray="9.00 7.02" stroke-dashoffset="4.50"/>
<path d="M467.0 1015.7L483.0 1017.0" stroke-dasharray="8.99 7.07" stroke-dashoffset="4.49"/>
<path d="M483.0 1017.0L499.0 1017.0" stroke-dasharray="9.00 7.00" stroke-dashoffset="4.50"/>
<path d="M499.0 1017.0L515.0 1017.0" stroke-dasharray="9.00 7.00" stroke-dashoffset="4.50"/>
<path d="M515.0 1017.0L531.0 1018.5" stroke-dasharray="8.98 7.09" stroke-dashoffset="4.49"/>
<path d="M531.0 1018.5L547.0 1019.0" stroke-dasharray="9.00 7.01" stroke-dashoffset="4.50"/>
<path d="M547.0 1019.0L563.0 1019.0" stroke-dasharray="9.00 7.00" stroke-dashoffset="4.50"/>
<path d="M563.0 1019.0L579.0 1019.0" stroke-dasharray="9.00 7.00" stroke-dashoffset="4.50"/>
<path d="M579.0 1019.0L595.0 1018.5" stroke-dasharray="9.00 7.01" stroke-dashoffset="4.50"/>
<path d="M595.0 1018.5L611.0 1017.0" stroke-dasharray="8.98 7.09" stroke-dashoffset="4.49"/>
<path d="M611.0 1017.0L627.0 1015.0" stroke-dasharray="8.97 7.16" stroke-dashoffset="4.48"/>
<path d="M627.0 1015.0L643.0 1009.0" stroke-dasharray="8.71 8.38" stroke-dashoffset="4.36"/>
<path d="M643.0 1009.0L659.0 1003.0" stroke-dasharray="8.71 8.38" stroke-dashoffset="4.36"/>
<path d="M659.0 1003.0L675.0 996.5" stroke-dasharray="8.66 8.61" stroke-dashoffset="4.33"/>
<path d="M675.0 996.5L691.0 991.0" stroke-dasharray="8.76 8.16" stroke-dashoffset="4.38"/>
<path d="M691.0 991.0L707.0 985.0" stroke-dasharray="8.71 8.38" stroke-dashoffset="4.36"/>
<path d="M707.0 985.0L723.0 979.0" stroke-dasharray="8.71 8.38" stroke-dashoffset="4.36"/>
<path d="M723.0 979.0L739.0 973.0" stroke-dasharray="8.71 8.38" stroke-dashoffset="4.36"/>
<path d="M739.0 973.0L755.0 968.7" stroke-dasharray="8.85 7.72" stroke-dashoffset="4.42"/>
<path d="M755.0 968.7L771.0 967.2" stroke-dasharray="8.98 7.09" stroke-dashoffset="4.49"/>
<path d="M771.0 967.2L787.0 967.2" stroke-dasharray="9.00 7.00" stroke-dashoffset="4.50"/>
<path d="M787.0 967.2L803.0 967.7" stroke-dasharray="9.00 7.01" stroke-dashoffset="4.50"/>
<path d="M803.0 967.7L819.0 969.7" stroke-dasharray="8.97 7.16" stroke-dashoffset="4.48"/>
<path d="M819.0 969.7L835.0 971.2" stroke-dasharray="8.98 7.09" stroke-dashoffset="4.49"/>
<path d="M835.0 971.2L851.0 974.4" stroke-dasharray="8.92 7.40" stroke-dashoffset="4.46"/>
<path d="M851.0 974.4L867.0 979.7" stroke-dasharray="8.77 8.08" stroke-dashoffset="4.39"/>
<path d="M867.0 979.7L883.0 985.2" stroke-dasharray="8.76 8.16" stroke-dashoffset="4.38"/>
<path d="M883.0 985.2L899.0 987.0" stroke-dasharray="8.97 7.13" stroke-dashoffset="4.49"/>
<path d="M899.0 987.0L915.0 990.7" stroke-dasharray="8.89 7.53" stroke-dashoffset="4.44"/>
<path d="M915.0 990.7L931.0 994.7" stroke-dasharray="8.87 7.62" stroke-dashoffset="4.43"/>
<path d="M931.0 994.7L947.0 999.0" stroke-dasharray="8.85 7.72" stroke-dashoffset="4.42"/>
<path d="M947.0 999.0L963.0 1001.0" stroke-dasharray="8.97 7.16" stroke-dashoffset="4.48"/>
<path d="M963.0 1001.0L979.0 1002.8" stroke-dasharray="8.97 7.13" stroke-dashoffset="4.49"/>
<path d="M979.0 1002.8L995.0 1004.8" stroke-dasharray="8.97 7.16" stroke-dashoffset="4.48"/>
<path d="M995.0 1004.8L1011.0 1004.8" stroke-dasharray="9.00 7.00" stroke-dashoffset="4.50"/>
<path d="M1011.0 1004.8L1027.0 1003.0" stroke-dasharray="8.97 7.13" stroke-dashoffset="4.49"/>
<path d="M1027.0 1003.0L1043.0 1002.8" stroke-dasharray="9.00 7.00" stroke-dashoffset="4.50"/>
<path d="M1043.0 1002.8L1059.0 1001.0" stroke-dasharray="8.97 7.13" stroke-dashoffset="4.49"/>
<path d="M1059.0 1001.0L1075.0 1001.0" stroke-dasharray="9.00 7.00" stroke-dashoffset="4.50"/>
<path d="M1075.0 1001.0L1091.0 1001.0" stroke-dasharray="9.00 7.00" stroke-dashoffset="4.50"/>
<path d="M1091.0 1001.0L1107.0 999.5" stroke-dasharray="8.98 7.09" stroke-dashoffset="4.49"/>
<path d="M1107.0 999.5L1123.0 999.0" stroke-dasharray="9.00 7.01" stroke-dashoffset="4.50"/>
<path d="M1123.0 999.0L1139.0 997.0" stroke-dasharray="8.97 7.16" stroke-dashoffset="4.48"/>
<path d="M1139.0 997.0L1155.0 993.2" stroke-dasharray="8.88 7.56" stroke-dashoffset="4.44"/>
<path d="M1155.0 993.2L1171.0 991.0" stroke-dasharray="8.96 7.19" stroke-dashoffset="4.48"/>
<path d="M1171.0 991.0L1187.0 984.5" stroke-dasharray="8.66 8.61" stroke-dashoffset="4.33"/>
<path d="M1187.0 984.5L1203.0 975.2" stroke-dasharray="8.34 10.17" stroke-dashoffset="4.17"/>
<path d="M1203.0 975.2L1219.0 967.7" stroke-dasharray="8.56 9.11" stroke-dashoffset="4.28"/>
<path d="M1219.0 967.7L1235.0 960.2" stroke-dasharray="8.56 9.11" stroke-dashoffset="4.28"/>
<path d="M1235.0 960.2L1251.0 952.1" stroke-dasharray="8.49 9.45" stroke-dashoffset="4.24"/>
<path d="M1251.0 952.1L1267.0 943.5" stroke-dasharray="8.43 9.74" stroke-dashoffset="4.21"/>
<path d="M1267.0 943.5L1283.0 936.7" stroke-dasharray="8.63 8.75" stroke-dashoffset="4.32"/>
<path d="M1283.0 936.7L1299.0 930.6" stroke-dasharray="8.70 8.42" stroke-dashoffset="4.35"/>
<path d="M1299.0 930.6L1315.0 926.6" stroke-dasharray="8.87 7.62" stroke-dashoffset="4.43"/>
<path d="M1315.0 926.6L1331.0 924.7" stroke-dasharray="8.97 7.14" stroke-dashoffset="4.49"/>
<path d="M1331.0 924.7L1347.0 924.7" stroke-dasharray="9.00 7.00" stroke-dashoffset="4.50"/>
<path d="M1347.0 924.7L1363.0 924.7" stroke-dasharray="9.00 7.00" stroke-dashoffset="4.50"/>
<path d="M1363.0 924.7L1379.0 926.6" stroke-dasharray="8.97 7.14" stroke-dashoffset="4.49"/>
<path d="M1379.0 926.6L1395.0 930.6" stroke-dasharray="8.87 7.62" stroke-dashoffset="4.43"/>
<path d="M1395.0 930.6L1411.0 932.7" stroke-dasharray="8.96 7.17" stroke-dashoffset="4.48"/>
<path d="M1411.0 932.7L1427.0 938.5" stroke-dasharray="8.73 8.29" stroke-dashoffset="4.37"/>
<path d="M1427.0 938.5L1443.0 942.5" stroke-dasharray="8.87 7.62" stroke-dashoffset="4.43"/>
<path d="M1443.0 942.5L1459.0 948.6" stroke-dasharray="8.70 8.42" stroke-dashoffset="4.35"/>
<path d="M1459.0 948.6L1475.0 953.1" stroke-dasharray="8.84 7.79" stroke-dashoffset="4.42"/>
<path d="M1475.0 953.1L1491.0 958.5" stroke-dasharray="8.77 8.12" stroke-dashoffset="4.38"/>
<path d="M1491.0 958.5L1507.0 960.6" stroke-dasharray="8.96 7.17" stroke-dashoffset="4.48"/>
<path d="M1507.0 960.6L1523.0 964.6" stroke-dasharray="8.87 7.62" stroke-dashoffset="4.43"/>
<path d="M1523.0 964.6L1539.0 968.6" stroke-dasharray="8.87 7.62" stroke-dashoffset="4.43"/>
<path d="M1539.0 968.6L1555.0 971.0" stroke-dasharray="8.95 7.23" stroke-dashoffset="4.48"/>
<path d="M1555.0 971.0L1571.0 972.5" stroke-dasharray="8.98 7.09" stroke-dashoffset="4.49"/>
<path d="M1571.0 972.5L1587.0 975.2" stroke-dasharray="8.94 7.29" stroke-dashoffset="4.47"/>
</g>
<rect x="1630" y="0" width="86" height="1090" fill="#000"/>
<rect x="0" y="1050" width="1716" height="40" fill="#000"/>
<rect x="0" y="0" width="2" height="1050" fill="#fff"/>
<rect x="1628" y="0" width="2" height="1050" fill="#fff"/>
<rect x="0" y="690" width="1630" height="2" fill="#fff"/>
<rect x="0" y="694" width="1630" height="2" fill="#fff"/>
<rect x="0" y="906" width="1630" height="2" fill="#fff"/>
<rect x="0" y="910" width="1630" height="2" fill="#fff"/>
<rect x="0" y="1048" width="1630" height="2" fill="#fff"/>
<rect x="0" y="692" width="1630" height="2" fill="#000"/><rect x="0" y="908" width="1630" height="2" fill="#000"/>
<rect x="1630" y="24" width="4" height="2" fill="#fff"/>
<rect x="1630" y="90" width="4" height="2" fill="#fff"/>
<rect x="1630" y="156" width="4" height="2" fill="#fff"/>
<rect x="1630" y="222" width="4" height="2" fill="#fff"/>
<rect x="1630" y="288" width="4" height="2" fill="#fff"/>
<rect x="1630" y="354" width="4" height="2" fill="#fff"/>
<rect x="1630" y="420" width="4" height="2" fill="#fff"/>
<rect x="1630" y="486" width="4" height="2" fill="#fff"/>
<rect x="1630" y="552" width="4" height="2" fill="#fff"/>
<rect x="1630" y="618" width="4" height="2" fill="#fff"/>
<rect x="1630" y="684" width="4" height="2" fill="#fff"/>
<rect x="1630" y="698" width="2" height="2" fill="#fff"/>
<rect x="1630" y="904" width="2" height="2" fill="#fff"/>
<rect x="1630" y="914" width="2" height="2" fill="#fff"/>
<rect x="1630" y="1018" width="2" height="2" fill="#fff"/>
<rect x="1630" y="1048" width="2" height="2" fill="#fff"/>
<rect x="2" y="1050" width="2" height="6" fill="#fff"/>
<rect x="130" y="1050" width="2" height="6" fill="#fff"/>
<rect x="258" y="1050" width="2" height="6" fill="#fff"/>
<rect x="386" y="1050" width="2" height="6" fill="#fff"/>
<rect x="514" y="1050" width="2" height="6" fill="#fff"/>
<rect x="642" y="1050" width="2" height="6" fill="#fff"/>
<rect x="770" y="1050" width="2" height="6" fill="#fff"/>
<rect x="898" y="1050" width="2" height="6" fill="#fff"/>
<rect x="1026" y="1050" width="2" height="6" fill="#fff"/>
<rect x="1154" y="1050" width="2" height="6" fill="#fff"/>
<rect x="1282" y="1050" width="2" height="6" fill="#fff"/>
<rect x="1410" y="1050" width="2" height="6" fill="#fff"/>
<rect x="1538" y="1050" width="2" height="6" fill="#fff"/>
<text class="t" transform="translate(1640.7 31.8) scale(1.000 1.13)" textLength="64.2" lengthAdjust="spacingAndGlyphs">1.14850</text>
<text class="t" transform="translate(1640.7 97.8) scale(1.000 1.13)" textLength="64.2" lengthAdjust="spacingAndGlyphs">1.14090</text>
<text class="t" transform="translate(1640.7 163.8) scale(1.000 1.13)" textLength="64.2" lengthAdjust="spacingAndGlyphs">1.13310</text>
<text class="t" transform="translate(1640.7 229.8) scale(1.000 1.13)" textLength="64.2" lengthAdjust="spacingAndGlyphs">1.12550</text>
<text class="t" transform="translate(1640.7 295.8) scale(1.000 1.13)" textLength="64.2" lengthAdjust="spacingAndGlyphs">1.11790</text>
<text class="t" transform="translate(1640.7 361.8) scale(1.000 1.13)" textLength="64.2" lengthAdjust="spacingAndGlyphs">1.11010</text>
<text class="t" transform="translate(1640.7 427.8) scale(1.000 1.13)" textLength="64.2" lengthAdjust="spacingAndGlyphs">1.10250</text>
<text class="t" transform="translate(1640.7 493.8) scale(1.000 1.13)" textLength="64.2" lengthAdjust="spacingAndGlyphs">1.09490</text>
<text class="t" transform="translate(1640.7 559.8) scale(1.000 1.13)" textLength="64.2" lengthAdjust="spacingAndGlyphs">1.08710</text>
<text class="t" transform="translate(1640.7 625.8) scale(1.000 1.13)" textLength="64.2" lengthAdjust="spacingAndGlyphs">1.07950</text>
<text class="t" transform="translate(1640.7 691.8) scale(1.000 1.13)" textLength="64.2" lengthAdjust="spacingAndGlyphs">1.07190</text>
<rect x="1634" y="22" width="78" height="22" fill="#ff0000"/>
<text class="tk" transform="translate(1640.7 39.9) scale(1.000 1.13)" textLength="64.2" lengthAdjust="spacingAndGlyphs">1.14726</text>
<rect x="1634" y="204" width="78" height="22" fill="#ff0000"/>
<text class="tk" transform="translate(1640.7 221.9) scale(1.000 1.13)" textLength="64.2" lengthAdjust="spacingAndGlyphs">1.12619</text>
<rect x="1634" y="468" width="78" height="22" fill="#ff0000"/>
<text class="tk" transform="translate(1640.7 485.9) scale(1.000 1.13)" textLength="64.2" lengthAdjust="spacingAndGlyphs">1.09549</text>
<rect x="1634" y="548" width="78" height="22" fill="#ff0000"/>
<text class="tk" transform="translate(1640.7 565.9) scale(1.000 1.13)" textLength="64.2" lengthAdjust="spacingAndGlyphs">1.08624</text>
<rect x="1634" y="662" width="78" height="22" fill="#ff0000"/>
<text class="tk" transform="translate(1640.7 679.9) scale(1.000 1.13)" textLength="64.2" lengthAdjust="spacingAndGlyphs">1.07316</text>
<rect x="1634" y="132" width="78" height="22" fill="#fff"/>
<text class="tk" transform="translate(1640.7 149.9) scale(1.000 1.13)" textLength="64.2" lengthAdjust="spacingAndGlyphs">1.13486</text>
<text class="t" transform="translate(1636.5 716.0) scale(0.970 1.13)">100</text>
<text class="t" transform="translate(1633.5 745.7) scale(0.990 1.13)">80</text>
<text class="t" transform="translate(1633.5 871.7) scale(0.990 1.13)">20</text>
<text class="t" transform="translate(1635.5 899.8) scale(0.970 1.13)">0</text>
<text class="t" transform="translate(1635.5 932.0) scale(1.057 1.13)">0.011497</text>
<text class="t" transform="translate(1635.5 1025.6) scale(1.020 1.13)">0.00</text>
<text class="t" transform="translate(1636.0 1041.6) scale(1.050 1.13)">-0.003073</text>
<path d="M8 12.4H22.2L15.1 20.2Z" fill="#fff"/>
<text class="t" transform="translate(30.6 21.2) scale(1.000 1.13)" textLength="111.0" lengthAdjust="spacingAndGlyphs">EURUSD,H4</text>
<text class="t" transform="translate(151.4 21.2) scale(1.000 1.13)" textLength="280.8" lengthAdjust="spacingAndGlyphs">1.13620 1.13712 1.13441 1.13486</text>
<text class="t" transform="translate(8.6 719.8) scale(1.000 1.13)" textLength="100.5" lengthAdjust="spacingAndGlyphs">Stoch(5,3,3)</text>
<text class="t" transform="translate(115.0 719.8) scale(1.000 1.13)" textLength="66.0" lengthAdjust="spacingAndGlyphs">25.6851</text>
<text class="t" transform="translate(187.2 719.8) scale(1.000 1.13)" textLength="66.0" lengthAdjust="spacingAndGlyphs">50.4881</text>
<text class="t" transform="translate(8.2 936.3) scale(1.000 1.13)" textLength="133.5" lengthAdjust="spacingAndGlyphs">MACD(12,26,9)</text>
<text class="t" transform="translate(147.1 936.3) scale(1.000 1.13)" textLength="75.8" lengthAdjust="spacingAndGlyphs">0.004280</text>
<text class="t" transform="translate(229.2 936.3) scale(1.000 1.13)" textLength="75.8" lengthAdjust="spacingAndGlyphs">0.004950</text>
<text class="t" transform="translate(-1.0 1073.7) scale(1.075 1.13)">25 Mar 2025</text>
<text class="t" transform="translate(128.4 1073.7) scale(1.075 1.13)">27 Mar 04:00</text>
<text class="t" transform="translate(256.4 1073.7) scale(1.075 1.13)">28 Mar 12:00</text>
<text class="t" transform="translate(384.4 1073.7) scale(1.075 1.13)">31 Mar 20:00</text>
<text class="t" transform="translate(512.4 1073.7) scale(1.075 1.13)">2 Apr 04:00</text>
<text class="t" transform="translate(640.4 1073.7) scale(1.075 1.13)">3 Apr 12:00</text>
<text class="t" transform="translate(768.4 1073.7) scale(1.075 1.13)">4 Apr 20:00</text>
<text class="t" transform="translate(896.4 1073.7) scale(1.075 1.13)">8 Apr 04:00</text>
<text class="t" transform="translate(1024.4 1073.7) scale(1.075 1.13)">9 Apr 12:00</text>
<text class="t" transform="translate(1152.4 1073.7) scale(1.075 1.13)">10 Apr 20:00</text>
<text class="t" transform="translate(1280.4 1073.7) scale(1.075 1.13)">14 Apr 04:00</text>
<text class="t" transform="translate(1408.4 1073.7) scale(1.075 1.13)">15 Apr 12:00</text>
<text class="t" transform="translate(1536.4 1073.7) scale(1.075 1.13)">16 Apr 20:00</text>
<g fill="#ffffff" fill-opacity="0.142">
<path d="M412.7 99H1126A178 178 0 0 1 1304 277V455.8A178 178 0 0 1 1126 633.8H769V455.8H1125.5V277.8H591V990.4H412.7Z"/>
<path d="M769 812.3H1125.7L1214.3 990.4H769Z"/>
</g>
<rect x="333" y="1054" width="1053" height="34" fill="#000" fill-opacity="0.15"/>
<text x="333" y="1078.3" font-size="29.2px" fill="#a0a0a0" fill-opacity="0.8" textLength="1052" lengthAdjust="spacingAndGlyphs">Защищено пробной версией Visual Watermark. Полная версия не ставит это клеймо.</text>
</svg></body></html>
